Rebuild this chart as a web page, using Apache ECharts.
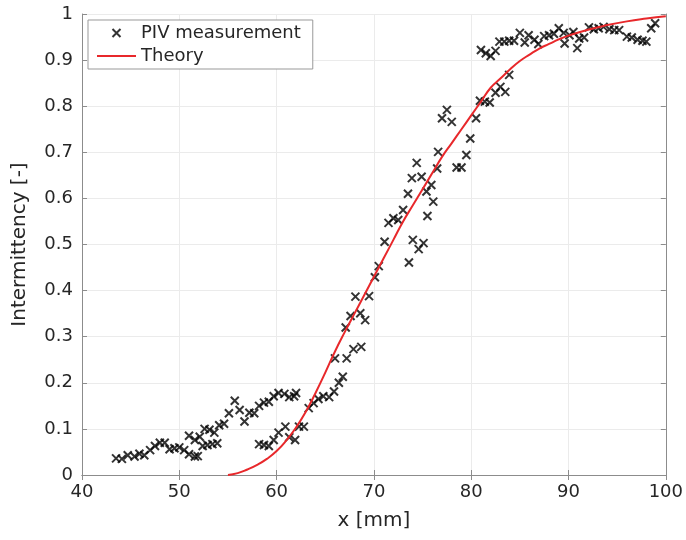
<!DOCTYPE html>
<html>
<head>
<meta charset="utf-8">
<script src="https://cdn.jsdelivr.net/npm/echarts@6/dist/echarts.min.js"></script>
<style>html,body{margin:0;padding:0;background:#fff}#c{width:686px;height:540px}</style>
</head>
<body>
<div id="c"></div>
<script>
const pivX = [43.5,44.1,44.7,45.4,45.9,46.4,47.0,47.5,48.0,48.5,49.0,49.5,50.0,50.5,51.0,51.0,51.6,51.6,51.9,52.1,52.4,52.6,52.9,53.1,53.4,53.6,53.9,54.1,54.6,55.1,55.7,56.2,56.7,57.2,57.7,58.2,58.2,58.7,58.7,59.2,59.2,59.7,59.7,60.2,60.2,60.8,60.9,61.3,61.3,61.8,61.9,62.0,62.3,62.8,63.3,63.8,64.3,64.8,65.4,65.9,66.0,66.4,66.8,67.1,67.2,67.6,67.9,68.1,68.6,68.7,69.1,69.5,70.1,70.5,71.1,71.5,72.0,72.5,73.0,73.5,73.6,73.9,74.0,74.4,74.6,74.9,75.1,75.4,75.5,75.9,76.1,76.5,76.6,77.0,77.5,78.0,78.5,79.0,79.5,79.9,80.5,80.9,81.0,81.4,81.5,81.9,82.0,82.5,82.5,82.9,83.0,83.4,83.5,83.9,83.9,84.4,85.0,85.5,85.9,86.5,86.9,87.5,88.0,88.5,89.0,89.5,89.6,90.1,90.5,90.9,91.1,91.6,92.1,92.6,93.1,93.6,94.2,94.7,95.2,96.0,96.5,97.1,97.6,98.0,98.5,98.9];
const pivY = [0.036,0.035,0.043,0.040,0.046,0.043,0.054,0.063,0.070,0.070,0.056,0.058,0.060,0.054,0.045,0.085,0.040,0.076,0.041,0.083,0.063,0.100,0.065,0.098,0.067,0.092,0.069,0.108,0.111,0.134,0.161,0.141,0.116,0.135,0.134,0.150,0.067,0.157,0.065,0.159,0.063,0.171,0.076,0.178,0.092,0.176,0.105,0.169,0.082,0.171,0.076,0.178,0.105,0.105,0.145,0.156,0.165,0.171,0.169,0.181,0.253,0.200,0.213,0.320,0.253,0.345,0.273,0.387,0.351,0.278,0.336,0.388,0.429,0.453,0.506,0.547,0.557,0.553,0.575,0.610,0.461,0.644,0.510,0.677,0.490,0.647,0.503,0.615,0.562,0.629,0.593,0.665,0.701,0.774,0.792,0.766,0.667,0.667,0.694,0.730,0.774,0.812,0.922,0.810,0.915,0.808,0.909,0.829,0.920,0.940,0.842,0.940,0.831,0.942,0.868,0.942,0.959,0.938,0.954,0.944,0.935,0.952,0.954,0.957,0.969,0.959,0.936,0.954,0.961,0.926,0.947,0.949,0.971,0.967,0.969,0.972,0.967,0.965,0.965,0.951,0.949,0.944,0.942,0.940,0.969,0.980];
const theoryX = [55,56,57,58,59,60,61,62,63,64,65,66,67,68,69,70,71,72,73,74,75,76,77,78,79,80,81,82,83,84,85,86,87,88,89,90,92,94,96,98,100];
const theoryY = [0,0.004,0.012,0.022,0.035,0.052,0.075,0.103,0.137,0.178,0.222,0.268,0.31,0.35,0.39,0.43,0.47,0.51,0.55,0.585,0.62,0.655,0.69,0.72,0.75,0.78,0.81,0.84,0.86,0.88,0.898,0.912,0.925,0.935,0.945,0.953,0.966,0.976,0.984,0.99,0.995];
const xTicks = [40,50,60,70,80,90,100];
const yTicks = [0,0.1,0.2,0.3,0.4,0.5,0.6,0.7,0.8,0.9,1];

const FONT = 'DejaVu Sans';
const TXT = '#262626';
const RED = '#e8282b';
const chart = echarts.init(document.getElementById('c'));
const pivData = pivX.map((x,i)=>[x,pivY[i]]);
const thData = theoryX.map((x,i)=>[x,theoryY[i]]);
const xMark = 'path://M0,0L10,10M10,0L0,10';
const axisCommon = {
  axisLine:{show:true,lineStyle:{color:'#8c8c8c',width:1}},
  axisTick:{show:true,inside:true,length:5,lineStyle:{color:'#8c8c8c'}},
};
chart.setOption({
  animation:false,
  backgroundColor:'#fff',
  grid:{left:82,right:17,top:14,bottom:65,show:false},
  legend:{
    orient:'vertical', left:88, top:20, itemGap:5,
    itemWidth:39, itemHeight:8,
    padding:[4,12,4,8],
    borderColor:'#999', borderWidth:1, backgroundColor:'#fff',
    textStyle:{fontFamily:FONT,fontSize:18,color:TXT},
    data:[
      {name:'PIV measurement'},
      {name:'Theory', itemStyle:{color:'rgba(0,0,0,0)',borderColor:'rgba(0,0,0,0)',borderWidth:0}, lineStyle:{color:RED,width:2}}
    ]
  },
  xAxis:[{
    type:'value', min:xTicks[0], max:xTicks[xTicks.length-1], interval:10,
    name:'x [mm]', nameLocation:'middle', nameGap:36,
    nameTextStyle:{fontFamily:FONT,fontSize:20,color:TXT},
    axisLabel:{fontFamily:FONT,fontSize:18,color:TXT,margin:8},
    splitLine:{show:true,lineStyle:{color:'#ebebeb'}},
    ...axisCommon
  },{
    type:'value', position:'top', min:40, max:100, interval:10,
    axisLabel:{show:false}, splitLine:{show:false}, ...axisCommon
  }],
  yAxis:[{
    type:'value', min:yTicks[0], max:yTicks[yTicks.length-1], interval:0.1,
    name:'Intermittency [-]', nameLocation:'middle', nameGap:52, nameRotate:90,
    nameTextStyle:{fontFamily:FONT,fontSize:20,color:TXT},
    axisLabel:{fontFamily:FONT,fontSize:18,color:TXT,margin:9,formatter:v=>String(+v.toFixed(1))},
    splitLine:{show:true,lineStyle:{color:'#ebebeb'}},
    ...axisCommon
  },{
    type:'value', position:'right', min:0, max:1, interval:0.1,
    axisLabel:{show:false}, splitLine:{show:false}, ...axisCommon
  }],
  series:[{
    name:'PIV measurement', type:'scatter', data:pivData,
    symbol:xMark, symbolSize:8,
    itemStyle:{color:'transparent',borderColor:'#000',borderWidth:2},
    z:3
  },{
    name:'Theory', type:'line', data:thData, smooth:true, showSymbol:false, symbol:'none',
    lineStyle:{color:RED,width:2}, itemStyle:{color:RED},
    z:4
  }]
});
</script>
</body>
</html>
